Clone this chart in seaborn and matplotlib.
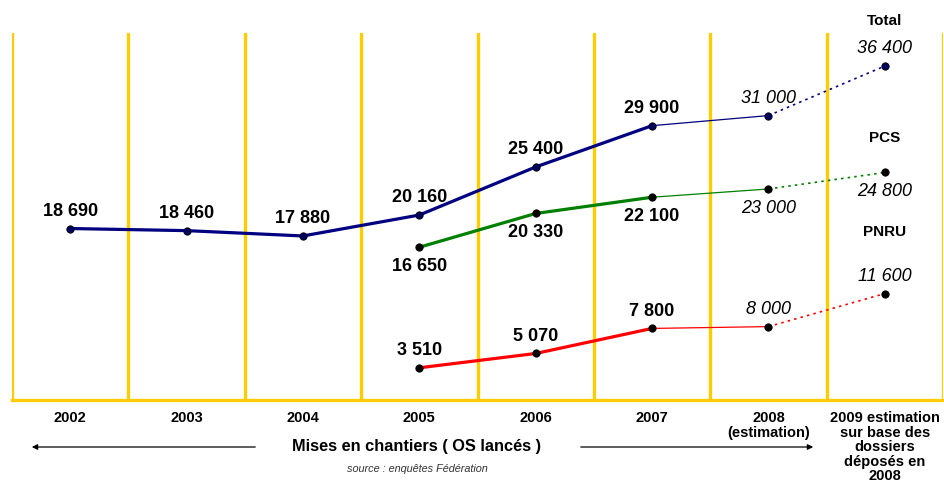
import numpy as np
import pandas as pd
import seaborn as sns
import matplotlib
matplotlib.use('Agg')
import matplotlib.pyplot as plt

sns.set_style('white')
plt.rcParams['font.family'] = ['Liberation Sans', 'DejaVu Sans']

years = ['2002', '2003', '2004', '2005', '2006', '2007',
         '2008\n(estimation)',
         '2009 estimation\nsur base des\ndossiers\ndéposés en\n2008']
total = [18690, 18460, 17880, 20160, 25400, 29900, 31000, 36400]
pcs = [np.nan, np.nan, np.nan, 16650, 20330, 22100, 23000, 24800]
pnru = [np.nan, np.nan, np.nan, 3510, 5070, 7800, 8000, 11600]
series_names = ['Total', 'PCS', 'PNRU']
colors = {'Total': '#000080', 'PCS': '#008000', 'PNRU': '#FF0000'}
# label placement for each series: +1 above, -1 below
label_side = {'Total': 1, 'PCS': -1, 'PNRU': 1}

x = np.arange(len(years))
df = pd.DataFrame({'x': x, 'Total': total, 'PCS': pcs, 'PNRU': pnru})
long = df.melt(id_vars='x', var_name='serie', value_name='val').dropna()

fig = plt.figure(figsize=(9.44, 4.83), dpi=100)
ax = fig.add_axes([12 / 944, 1 - 400 / 483, 931 / 944, (400 - 33) / 483])

yellow = '#FFCC00'
for b in np.arange(-0.5, len(years) + 0.5, 1):
    ax.axvline(b, color=yellow, lw=2.4, zorder=1)

for name in series_names:
    d = long[long.serie == name]
    real = d[d.x <= 5]
    est = d[(d.x >= 5) & (d.x <= 6)]
    proj = d[d.x >= 6]
    c = colors[name]
    sns.lineplot(data=real, x='x', y='val', color=c, lw=2.3, ax=ax, zorder=3)
    sns.lineplot(data=est, x='x', y='val', color=c, lw=0.9, ax=ax, zorder=3)
    sns.lineplot(data=proj, x='x', y='val', color=c, lw=1.2, ax=ax, zorder=3,
                 linestyle=(0, (1.5, 2.5)))
    mc = '#000060' if name == 'Total' else 'black'
    sns.scatterplot(data=d, x='x', y='val', color=mc, edgecolor='black',
                    s=28, linewidth=0.6, ax=ax, zorder=4)
    for xi, v in zip(d.x, d.val):
        off = 12.5 if label_side[name] > 0 else -14
        lab = f'{int(v):,}'.replace(',', ' ')
        if xi <= 5:
            kw = dict(fontweight='bold', fontsize=13)
        else:
            kw = dict(fontstyle='italic', fontsize=13)
        ax.annotate(lab, (xi, v), xytext=(0, off), textcoords='offset points',
                    ha='center', va='center', color='black', **kw)

ax.set_xlim(-0.5, len(years) - 0.5)
ax.set_ylim(0, 40000)
ax.set_yticks([])
ax.set_xticks(x)
ax.set_xticklabels(years, fontweight='bold', fontsize=10.5, linespacing=1.05,
                   va='top', color='black')
ax.tick_params(axis='x', length=0, pad=8)
ax.set_xticks(np.arange(-0.5, len(years), 1), minor=True)
ax.tick_params(axis='x', which='minor', length=4, width=2.4, color=yellow,
               direction='out')
ax.set_xlabel('')
ax.set_ylabel('')
for s in ['top', 'left', 'right']:
    ax.spines[s].set_visible(False)
ax.spines['bottom'].set_color(yellow)
ax.spines['bottom'].set_linewidth(2.4)

# series names in the right column
for name, yy in zip(series_names, [21, 138, 232]):
    fig.text(885 / 944, 1 - yy / 483, name, ha='center', va='center',
             fontweight='bold', fontsize=11, color='black')

fig.text(417 / 944, 1 - 447 / 483, 'Mises en chantiers ( OS lancés )',
         ha='center', va='center', fontweight='bold', fontsize=11.8,
         color='black')
fig.text(417 / 944, 1 - 469 / 483, 'source : enquêtes Fédération',
         ha='center', va='center', fontstyle='italic', fontsize=7.8,
         color='#333333')
arrow = dict(arrowstyle='-|>', color='black', lw=0.9, mutation_scale=8)
fig.add_artist(matplotlib.patches.FancyArrowPatch(
    (258 / 944, 1 - 447 / 483), (29 / 944, 1 - 447 / 483),
    transform=fig.transFigure, **arrow))
fig.add_artist(matplotlib.patches.FancyArrowPatch(
    (578 / 944, 1 - 447 / 483), (816 / 944, 1 - 447 / 483),
    transform=fig.transFigure, **arrow))

fig.savefig('out.png', dpi=100)
